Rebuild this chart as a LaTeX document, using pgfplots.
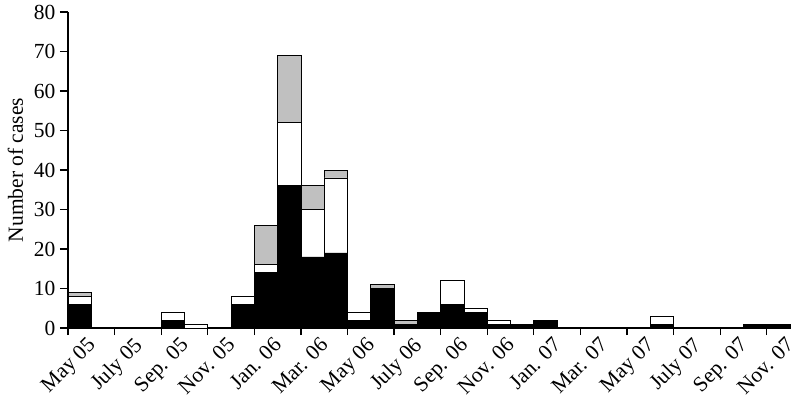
\documentclass[border=0pt]{standalone}
\usepackage{fontspec}
\setmainfont{Liberation Serif}
\usepackage{pgfplots}
\usepackage{pgfplotstable}
\pgfplotsset{compat=1.18}
\definecolor{bargray}{HTML}{C0C0C0}
\pgfplotstableread{
x b w g
0.5 6 2 1
1.5 0 0 0
2.5 0 0 0
3.5 0 0 0
4.5 2 2 0
5.5 0 1 0
6.5 0 0 0
7.5 6 2 0
8.5 14 2 10
9.5 36 16 17
10.5 18 12 6
11.5 19 19 2
12.5 2 2 0
13.5 10 0 1
14.5 1 0 1
15.5 4 0 0
16.5 6 6 0
17.5 4 1 0
18.5 1 1 0
19.5 1 0 0
20.5 2 0 0
21.5 0 0 0
22.5 0 0 0
23.5 0 0 0
24.5 0 0 0
25.5 1 2 0
26.5 0 0 0
27.5 0 0 0
28.5 0 0 0
29.5 1 0 0
30.5 1 0 0
}\cases
\begin{document}
\begin{tikzpicture}
\begin{axis}[
  at={(0,0)}, anchor=south west,
  width=722bp, height=316bp, scale only axis,
  xmin=0, xmax=31, ymin=0, ymax=80,
  axis lines*=left,
  axis line style={line width=1.6bp, -},
  ybar stacked, bar width=1,
  tick align=outside,
  major tick length=8bp, minor tick length=7bp,
  every tick/.style={black, line width=1.2bp},
  xtick={0.5,2.5,...,30.5},
  xticklabels={May 05, July 05, Sep. 05, Nov. 05, Jan. 06, Mar. 06, May 06, July 06, Sep. 06, Nov. 06, Jan. 07, Mar. 07, May 07, July 07, Sep. 07, Nov. 07},
  major x tick style={draw=none},
  minor xtick={0,2,...,30},
  ytick={0,10,...,80},
  /pgf/number format/assume math mode=true,
  tick label style={font=\fontsize{21.5bp}{25bp}\selectfont},
  xticklabel style={rotate=45, anchor=north east, xshift=8bp, yshift=-1bp},
  yticklabel style={xshift=-1bp},
  ylabel={Number of cases},
  ylabel style={font=\fontsize{21.5bp}{25bp}\selectfont},
  ylabel shift=4bp,
  clip=false,
]
\addplot[fill=black, draw=black, line width=0.8bp] table[x=x, y=b] {\cases};
\addplot[fill=white, draw=black, line width=0.8bp] table[x=x, y=w] {\cases};
\addplot[fill=bargray, draw=black, line width=0.8bp] table[x=x, y=g] {\cases};
\end{axis}
\pgfresetboundingbox
\path[use as bounding box] (-68bp,-76bp) rectangle (732bp,328bp);
\end{tikzpicture}
\end{document}
